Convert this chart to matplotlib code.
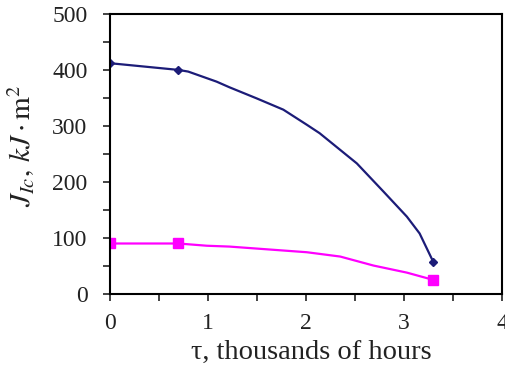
import matplotlib
matplotlib.use("Agg")
import matplotlib.pyplot as plt
from matplotlib.ticker import MultipleLocator

# measured points (markers)
t_pts = [0, 0.7, 3.3]
j1_pts = [412, 400, 57]
j2_pts = [90, 90, 25]

# smoothed curves
t_curve1 = [0, 0.7, 0.8, 1.09, 1.22, 1.5, 1.77, 2.01, 2.14, 2.52, 2.79, 3.03, 3.16, 3.3]
j_curve1 = [412, 400, 397, 379, 369, 349, 329, 302, 287, 233, 183, 138, 108, 57]
t_curve2 = [0, 0.7, 0.99, 1.22, 2.01, 2.35, 2.69, 3.03, 3.3]
j_curve2 = [90, 90, 86, 84.5, 74.4, 66.7, 50.6, 38, 25]

navy = "#1c1c78"
magenta = "#ff00ff"

plt.rcParams["font.family"] = ["Liberation Serif", "DejaVu Serif"]
plt.rcParams["mathtext.fontset"] = "stix"

fig = plt.figure(figsize=(5.06, 3.66), dpi=100)
ax = fig.add_axes([0.217, 0.197, 0.775, 0.765])

ax.plot(t_curve1, j_curve1, color=navy, lw=1.6)
ax.plot(t_pts, j1_pts, ls="none", marker="D", ms=4.5, color=navy)
ax.plot(t_curve2, j_curve2, color=magenta, lw=1.6)
ax.plot(t_pts, j2_pts, ls="none", marker="s", ms=6.5, color=magenta)

ax.set_xlim(0, 4)
ax.set_ylim(0, 500)
ax.xaxis.set_major_locator(MultipleLocator(1))
ax.xaxis.set_minor_locator(MultipleLocator(0.5))
ax.yaxis.set_major_locator(MultipleLocator(100))
ax.yaxis.set_minor_locator(MultipleLocator(50))
ax.tick_params(which="both", direction="out", length=5, width=1.2, labelsize=17, colors="#222222")
ax.tick_params(axis="x", pad=9)
ax.tick_params(axis="y", pad=11)
for s in ax.spines.values():
    s.set_linewidth(1.5)

ax.set_xlabel("τ, thousands of hours", fontsize=20.5, color="#222222")
ax.xaxis.set_label_coords(0.515, -0.165)
ax.set_ylabel(r"$J_{Ic},\, kJ\cdot\mathrm{m}^{2}$", fontsize=21, color="#222222")
ax.yaxis.set_label_coords(-0.186, 0.53)

fig.savefig("out.png", dpi=100)
